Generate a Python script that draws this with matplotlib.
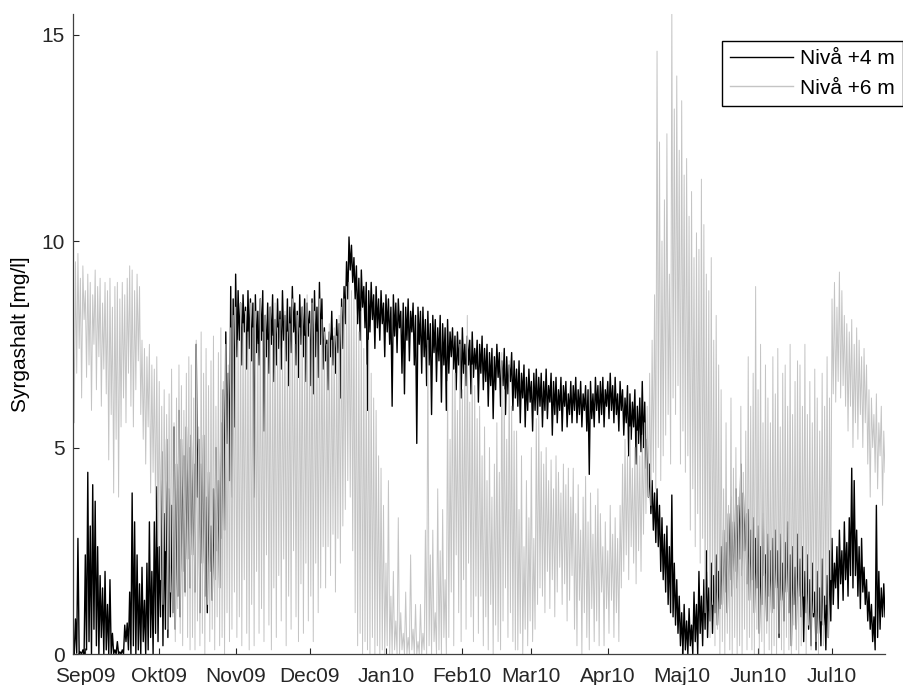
import pandas as pd
import matplotlib
matplotlib.use("Agg")
import matplotlib.pyplot as plt

# Sampling: two readings per day (day / night), starting 27 Aug 2009
start = "2009-08-27"
step = "12h"

month_ticks = ["2009-09-01", "2009-10-01", "2009-11-01", "2009-12-01",
               "2010-01-01", "2010-02-01", "2010-03-01", "2010-04-01",
               "2010-05-01", "2010-06-01", "2010-07-01"]
month_labels = ["Sep09", "Okt09", "Nov09", "Dec09", "Jan10", "Feb10",
                "Mar10", "Apr10", "Maj10", "Jun10", "Jul10"]
series_labels = ["Nivå +4 m", "Nivå +6 m"]
y_ticks = [0, 5, 10, 15]

# Dissolved oxygen [mg/l] at +4 m
level4 = [
    0.05, 0.0, 0.85, 0.02, 2.8, 0.0, 0.05, 0.0, 0.1, 0.0, 2.4, 0.1, 4.4, 0.3,
    3.1, 0.0, 4.1, 0.6, 3.7, 0.2, 2.6, 0.0, 1.9, 0.4, 1.6, 0.0, 2.0, 0.1,
    1.2, 0.0, 1.8, 0.0, 0.5, 0.0, 0.1, 0.0, 0.3, 0.0, 0.05, 0.0, 0.1, 0.0,
    0.7, 0.3, 0.75, 0.1, 1.5, 0.0, 3.9, 0.2, 3.2, 0.0, 2.4, 0.1, 1.7, 0.0,
    2.1, 0.3, 1.3, 0.0, 2.2, 0.1, 3.2, 0.4, 2.0, 0.0, 3.2, 0.5, 4.05, 0.3,
    2.6, 0.9, 4.9, 0.2, 3.4, 0.6, 5.2, 0.4, 4.0, 0.9, 3.6, 1.0, 5.5, 0.6,
    4.6, 1.4, 5.9, 0.9, 5.2, 2.0, 4.8, 1.5, 5.5, 2.3, 5.0, 1.6, 5.3, 2.4,
    4.6, 1.5, 7.5, 3.8, 5.2, 1.0, 4.6, 2.2, 5.3, 1.4, 3.8, 1.0, 4.4, 2.0,
    3.1, 1.3, 4.0, 1.8, 5.0, 2.5, 4.2, 1.6, 5.6, 2.8, 6.4, 3.0, 7.8, 5.1,
    6.8, 4.2, 8.9, 3.8, 8.6, 5.5, 9.2, 7.2, 8.8, 7.6, 8.5, 7.0, 8.7, 7.8,
    8.4, 6.9, 8.8, 7.4, 8.6, 7.1, 8.5, 3.8, 8.7, 7.3, 8.3, 7.0, 8.6, 7.6,
    8.8, 5.4, 8.2, 7.2, 8.5, 6.8, 8.4, 7.5, 8.7, 6.6, 8.1, 7.0, 8.6, 7.4,
    8.3, 6.9, 8.8, 7.6, 8.2, 7.1, 8.6, 6.5, 8.4, 7.3, 8.9, 7.8, 8.5, 7.0,
    8.3, 6.7, 8.7, 7.5, 8.4, 7.2, 8.6, 6.6, 8.5, 7.7, 8.3, 6.5, 8.6, 6.3,
    8.8, 7.2, 8.4, 6.7, 9.0, 7.5, 8.6, 6.9, 7.9, 7.1, 7.6, 6.4, 7.8, 7.2,
    8.3, 7.0, 7.7, 6.8, 8.1, 7.3, 8.0, 6.2, 8.6, 7.4, 8.9, 8.0, 9.5, 8.6,
    10.1, 9.3, 9.9, 9.0, 9.6, 8.6, 9.4, 8.0, 9.1, 7.6, 9.3, 8.4, 8.9, 7.9,
    9.0, 5.9, 8.8, 7.8, 9.0, 8.1, 8.7, 7.4, 8.9, 7.9, 8.6, 7.6, 8.8, 8.0,
    8.5, 7.2, 8.7, 7.8, 8.6, 7.5, 8.4, 6.0, 8.7, 7.7, 8.5, 7.3, 8.6, 7.9,
    8.3, 6.8, 8.5, 6.3, 8.4, 7.6, 8.6, 7.1, 8.3, 7.8, 8.5, 7.0, 8.2, 5.1,
    8.4, 7.5, 8.3, 6.8, 8.4, 7.2, 8.1, 6.5, 8.3, 7.0, 8.0, 5.8, 8.2, 7.3,
    8.1, 6.6, 7.9, 7.1, 8.2, 6.1, 8.0, 7.0, 7.9, 5.9, 8.1, 6.8, 7.8, 7.2,
    7.9, 6.9, 7.7, 6.4, 7.8, 7.0, 7.6, 6.2, 7.9, 6.8, 7.5, 6.5, 7.7, 7.0,
    7.6, 6.3, 7.8, 6.7, 7.4, 6.9, 7.6, 6.1, 7.5, 6.8, 7.7, 6.4, 7.4, 6.6,
    7.5, 6.0, 7.3, 6.5, 7.4, 5.7, 7.2, 6.4, 7.5, 6.7, 7.3, 6.0, 7.1, 6.5,
    7.4, 5.8, 7.2, 6.3, 7.0, 6.6, 7.3, 5.9, 7.1, 6.2, 6.9, 6.0, 7.1, 5.6,
    6.8, 6.2, 7.0, 5.5, 6.7, 5.9, 6.9, 6.1, 6.6, 5.4, 6.8, 5.9, 6.9, 5.8,
    6.7, 6.0, 6.8, 5.5, 6.6, 5.9, 6.9, 5.7, 6.5, 6.1, 6.8, 5.3, 6.6, 5.8,
    6.7, 5.6, 6.4, 5.9, 6.7, 5.4, 6.5, 6.0, 6.6, 5.5, 6.3, 5.8, 6.6, 5.6,
    6.5, 5.9, 6.7, 5.6, 6.4, 5.8, 6.6, 5.5, 6.3, 5.9, 6.5, 5.4, 6.4, 4.35,
    6.6, 5.7, 6.3, 5.5, 6.7, 5.9, 6.5, 5.6, 6.6, 5.8, 6.7, 5.5, 6.4, 6.0,
    6.6, 5.7, 6.8, 5.9, 6.5, 5.6, 6.7, 5.8, 6.3, 5.4, 6.6, 5.9, 6.4, 5.3,
    6.2, 5.6, 6.5, 4.8, 6.3, 5.2, 6.1, 5.5, 6.4, 4.6, 6.0, 5.1, 6.2, 4.9,
    6.6, 5.0, 6.1, 4.5, 5.2, 3.8, 4.6, 3.4, 4.2, 3.0, 3.9, 2.7, 4.0, 2.6,
    3.6, 2.0, 3.3, 1.8, 2.9, 1.5, 3.1, 1.2, 2.6, 1.0, 3.85, 0.9, 2.2, 0.7,
    1.8, 0.5, 1.4, 0.2, 1.0, 0.0, 1.2, 0.1, 0.8, 0.0, 1.1, 0.2, 0.7, 0.0,
    1.5, 0.3, 1.2, 0.0, 2.0, 0.5, 1.4, 0.2, 1.8, 0.6, 2.5, 0.4, 1.6, 0.8,
    2.2, 0.5, 1.9, 1.0, 2.4, 0.7, 2.0, 1.1, 2.6, 1.2, 3.0, 1.5, 2.7, 1.0,
    3.4, 1.8, 3.8, 1.4, 3.2, 2.0, 4.0, 1.6, 3.6, 2.3, 4.6, 1.9, 3.9, 2.5,
    3.4, 1.7, 3.5, 1.3, 3.0, 1.8, 3.3, 1.0, 2.8, 1.6, 3.1, 0.5, 2.6, 1.2,
    3.4, 1.9, 2.4, 0.8, 2.9, 1.4, 2.5, 1.0, 2.8, 1.1, 3.0, 1.6, 2.5, 0.4,
    2.9, 1.3, 2.2, 0.8, 2.7, 1.5, 3.2, 1.0, 2.4, 0.2, 2.6, 1.2, 2.1, 0.6,
    2.9, 1.4, 2.3, 0.9, 2.6, 0.3, 2.0, 1.0, 2.4, 0.6, 1.8, 0.2, 2.2, 0.9,
    1.5, 0.1, 2.0, 0.5, 1.6, 0.2, 2.3, 0.7, 1.4, 0.1, 1.9, 0.4, 2.5, 0.8,
    2.8, 1.2, 2.2, 1.6, 2.6, 1.1, 3.0, 1.7, 2.5, 1.3, 3.2, 1.8, 2.7, 1.4,
    3.3, 1.9, 4.5, 1.6, 4.2, 1.9, 3.0, 1.4, 2.6, 1.1, 2.8, 1.5, 2.1, 1.2,
    1.8, 0.8, 1.5, 0.6, 1.2, 0.3, 0.9, 0.1, 3.6, 0.4, 2.0, 0.6, 1.6, 0.9,
    1.7, 0.9,
]

# Dissolved oxygen [mg/l] at +6 m
level6 = [
    9.0, 5.6, 9.5, 6.8, 9.7, 7.4, 9.1, 6.2, 9.4, 8.1, 8.8, 6.7, 9.2, 7.0,
    9.0, 5.9, 8.7, 7.5, 9.3, 6.4, 8.9, 7.2, 9.1, 6.0, 8.5, 6.9, 9.0, 6.3,
    8.8, 4.7, 9.1, 5.8, 8.4, 3.9, 8.9, 5.2, 9.0, 3.8, 8.6, 5.5, 9.0, 6.2,
    8.7, 5.6, 9.1, 6.8, 9.4, 6.0, 9.3, 5.5, 8.8, 6.4, 9.2, 7.1, 8.9, 5.8,
    7.6, 5.2, 7.4, 4.6, 7.2, 5.5, 7.5, 3.9, 7.0, 4.4, 6.9, 3.5, 7.2, 2.6,
    6.6, 1.8, 6.0, 1.2, 6.4, 2.5, 5.8, 0.6, 6.3, 1.5, 6.9, 0.9, 5.6, 0.3,
    6.2, 1.1, 7.0, 0.5, 6.5, 0.2, 5.9, 1.4, 6.8, 0.4, 7.2, 0.1, 7.0, 0.4,
    6.2, 0.1, 7.6, 0.8, 5.5, 0.2, 7.8, 0.5, 6.8, 0.0, 7.4, 1.2, 6.5, 0.3,
    7.1, 0.6, 7.7, 0.1, 6.0, 0.9, 7.3, 0.2, 7.9, 0.4, 6.6, 0.0, 7.5, 1.0,
    7.0, 0.3, 7.9, 0.6, 8.2, 1.5, 8.4, 0.4, 7.6, 0.9, 8.5, 0.2, 8.0, 1.8,
    8.3, 0.5, 7.8, 0.1, 8.5, 1.2, 7.9, 0.2, 8.3, 2.0, 7.5, 0.5, 8.6, 1.1,
    7.8, 0.3, 8.2, 2.4, 7.6, 0.7, 8.4, 0.1, 7.7, 1.6, 8.5, 0.4, 7.9, 1.9,
    8.1, 0.8, 7.4, 2.3, 8.3, 0.2, 7.8, 1.4, 8.0, 0.6, 8.6, 2.5, 7.5, 0.9,
    8.2, 0.3, 7.9, 1.7, 8.4, 0.5, 7.7, 2.2, 8.7, 0.8, 8.0, 1.4, 8.5, 0.3,
    8.3, 2.2, 7.8, 1.0, 8.6, 1.6, 8.1, 2.6, 7.8, 1.6, 7.5, 2.6, 8.0, 1.9,
    7.6, 2.9, 7.9, 1.5, 7.7, 2.8, 8.2, 2.2, 8.4, 3.1, 8.6, 3.5, 8.9, 4.2,
    9.0, 3.8, 8.8, 2.5, 8.6, 1.0, 8.2, 0.2, 7.8, 0.5, 8.3, 0.0, 7.4, 0.3,
    7.0, 0.1, 7.6, 0.0, 6.8, 0.4, 6.2, 0.0, 5.9, 0.2, 4.8, 0.0, 4.5, 0.1,
    3.6, 0.0, 2.2, 0.2, 4.2, 0.0, 1.4, 0.0, 2.0, 0.1, 0.8, 0.0, 3.3, 0.0,
    1.0, 0.1, 0.5, 0.0, 1.5, 0.0, 0.4, 0.0, 2.4, 0.1, 0.6, 0.0, 1.2, 0.0,
    0.3, 0.0, 1.2, 0.0, 0.5, 0.1, 3.0, 0.0, 7.6, 0.2, 2.4, 0.0, 3.0, 0.3,
    1.0, 0.0, 4.0, 0.1, 2.5, 0.0, 3.5, 0.4, 1.8, 0.0, 6.6, 0.4, 5.2, 1.5,
    7.2, 0.2, 6.8, 2.4, 5.9, 1.0, 7.5, 0.3, 6.4, 1.8, 7.0, 0.6, 8.2, 2.2,
    6.1, 0.9, 7.0, 0.3, 6.5, 1.4, 5.7, 0.5, 6.0, 1.4, 4.8, 0.2, 5.5, 0.9,
    4.2, 0.1, 5.0, 1.2, 3.8, 0.0, 4.6, 0.7, 5.6, 0.3, 4.4, 0.1, 7.3, 0.8,
    6.4, 1.6, 5.2, 0.4, 7.1, 1.0, 6.0, 0.3, 5.4, 0.1, 5.4, 0.1, 3.5, 0.5,
    4.8, 0.0, 2.6, 0.6, 4.2, 0.2, 3.3, 0.8, 5.0, 0.3, 2.8, 0.6, 5.7, 1.2,
    5.8, 1.6, 4.9, 1.4, 4.6, 1.0, 5.0, 2.0, 4.2, 1.1, 4.7, 1.8, 4.0, 0.9,
    4.8, 1.5, 4.4, 2.1, 3.9, 1.2, 4.6, 1.7, 4.1, 0.8, 4.5, 1.3, 3.8, 1.9,
    4.5, 0.6, 3.4, 0.2, 4.1, 1.3, 3.0, 0.0, 3.8, 1.0, 4.3, 0.4, 3.2, 0.1,
    3.9, 1.1, 2.9, 0.3, 3.6, 0.8, 4.0, 0.2, 3.4, 1.5, 2.6, 0.2, 3.2, 1.1,
    2.5, 0.5, 3.6, 1.3, 2.9, 0.4, 3.3, 1.0, 2.8, 0.3, 3.6, 1.6, 4.6, 2.0,
    5.2, 2.4, 4.8, 1.8, 5.5, 2.6, 4.5, 2.2, 5.0, 1.7, 5.4, 2.5, 4.8, 2.0,
    5.3, 2.9, 5.6, 3.4, 6.0, 3.8, 6.8, 3.6, 7.6, 4.4, 8.7, 4.0, 14.6, 5.0,
    12.4, 4.2, 10.0, 4.8, 11.0, 5.3, 12.6, 5.8, 9.2, 4.6, 15.5, 6.2, 13.2, 5.8,
    14.0, 6.5, 12.2, 4.6, 13.4, 5.4, 11.6, 4.4, 12.0, 4.8, 10.6, 3.0, 11.2, 4.0,
    9.6, 2.6, 10.2, 3.4, 9.8, 2.2, 11.5, 2.8, 10.4, 1.0, 9.2, 2.0, 8.8, 0.4,
    9.6, 1.2, 7.6, 0.2, 8.2, 0.6, 7.0, 0.0, 6.4, 0.3, 4.0, 0.0, 5.6, 0.5,
    3.6, 0.1, 6.2, 0.0, 4.5, 0.4, 5.0, 0.0, 3.8, 0.2, 6.0, 0.0, 4.4, 0.6,
    5.4, 0.1, 7.2, 0.4, 6.0, 0.1, 6.8, 0.0, 8.9, 0.6, 6.4, 0.0, 7.5, 0.3,
    5.6, 0.0, 7.0, 0.5, 6.2, 0.1, 5.6, 0.0, 7.2, 0.2, 6.3, 0.0, 7.4, 0.5,
    5.5, 0.1, 6.8, 0.0, 7.0, 0.4, 6.0, 0.1, 7.5, 0.0, 5.8, 0.7, 6.6, 0.1,
    7.1, 0.0, 7.0, 0.2, 6.0, 1.4, 7.5, 0.0, 5.8, 0.7, 6.6, 0.1, 5.6, 1.0,
    6.9, 0.3, 6.2, 0.0, 5.4, 0.8, 6.8, 0.2, 6.0, 1.2, 7.2, 0.4, 6.2, 1.8,
    8.6, 6.3, 9.0, 6.1, 8.4, 6.6, 9.25, 6.2, 8.8, 6.5, 8.2, 6.0, 8.0, 5.4,
    7.8, 6.0, 8.1, 5.0, 7.5, 5.6, 7.9, 5.2, 7.6, 5.8, 7.2, 5.0, 7.4, 5.6,
    7.0, 4.6, 6.4, 3.8, 6.2, 5.0, 5.8, 4.4, 6.3, 4.0, 5.6, 4.8, 6.0, 3.6,
    5.4, 4.4,
]

plt.rcParams["font.family"] = ["Liberation Sans", "DejaVu Sans"]

fig = plt.figure(figsize=(9.04, 6.85), dpi=100)
ax = fig.add_axes([73 / 904, 31 / 685, 812 / 904, 640 / 685])

t4 = pd.date_range(start, periods=len(level4), freq=step)
t6 = pd.date_range(start, periods=len(level6), freq=step)

ax.plot(t4, level4, color="black", lw=1.0, label=series_labels[0])
ax.plot(t6, level6, color="#c4c4c4", lw=0.7, label=series_labels[1])

ax.set_xlim(min(t4[0], t6[0]), max(t4[-1], t6[-1]))
ax.set_ylim(0, max(max(level4), max(level6)))

ax.set_xticks(pd.to_datetime(month_ticks))
ax.set_xticklabels(month_labels)
ax.set_yticks(y_ticks)
ax.tick_params(direction="in", length=4, width=0.8, labelsize=15,
               colors="#262626", pad=6)
ax.tick_params(axis="x", pad=9)

for side in ("top", "right"):
    ax.spines[side].set_visible(False)
for side in ("left", "bottom"):
    ax.spines[side].set_color("#404040")
    ax.spines[side].set_linewidth(0.9)

ax.set_ylabel("Syrgashalt [mg/l]", fontsize=15, labelpad=8)

leg = ax.legend(loc="upper left", bbox_to_anchor=(722 / 904, 1 - 41 / 685),
                bbox_transform=fig.transFigure, frameon=True, fancybox=False,
                edgecolor="black", framealpha=1, borderaxespad=0,
                handlelength=3.0, handletextpad=0.35, labelspacing=0.49,
                borderpad=0.4, fontsize=15)
leg.get_frame().set_linewidth(1.0)
for handle in leg.get_lines():
    handle.set_linewidth(1.0)

fig.savefig("out.png", dpi=100)
